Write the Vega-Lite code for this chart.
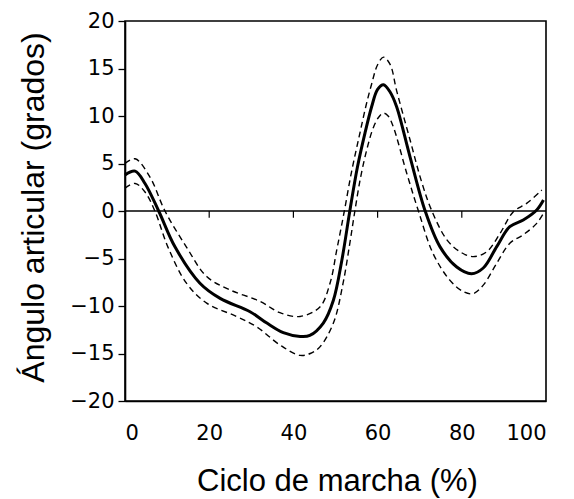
{
  "$schema": "https://vega.github.io/schema/vega-lite/v6.json",
  "width": 421,
  "height": 380,
  "autosize": {"type": "none"},
  "padding": {"left": 125, "top": 21, "right": 28, "bottom": 98},
  "background": "white",
  "config": {
    "view": {"stroke": "black", "strokeWidth": 1.6},
    "font": "Liberation Sans"
  },
  "datasets": {
    "media": [
      {"x": 0, "y": 3.8}, {"x": 2.4, "y": 4.2}, {"x": 4.75, "y": 2.9}, {"x": 8, "y": 0}, {"x": 11.9, "y": -3.8},
      {"x": 17.8, "y": -7.6}, {"x": 22.6, "y": -9.2}, {"x": 29.7, "y": -10.6}, {"x": 33.7, "y": -11.8},
      {"x": 37.6, "y": -12.8}, {"x": 41.6, "y": -13.2}, {"x": 43.9, "y": -13.1}, {"x": 47.1, "y": -11.8},
      {"x": 49.5, "y": -9.4}, {"x": 51.5, "y": -5.2}, {"x": 53.4, "y": 0}, {"x": 55.2, "y": 4.6},
      {"x": 57, "y": 8.2}, {"x": 58.6, "y": 11}, {"x": 60, "y": 12.8}, {"x": 61.4, "y": 13.3},
      {"x": 63, "y": 12.5}, {"x": 64.5, "y": 11}, {"x": 67.7, "y": 5.7}, {"x": 71.3, "y": 0},
      {"x": 74.8, "y": -3.75}, {"x": 78.8, "y": -5.9}, {"x": 82.3, "y": -6.6}, {"x": 85.1, "y": -6},
      {"x": 88.3, "y": -3.75}, {"x": 91.4, "y": -1.65}, {"x": 94.6, "y": -0.95}, {"x": 97.8, "y": 0.1},
      {"x": 99.4, "y": 1.15}
    ],
    "sup": [
      {"x": 0, "y": 5}, {"x": 2.4, "y": 5.5}, {"x": 5.9, "y": 3.6}, {"x": 9.5, "y": 0}, {"x": 14.6, "y": -3.8},
      {"x": 19.4, "y": -6.9}, {"x": 24.9, "y": -8.3}, {"x": 32, "y": -9.5}, {"x": 36.8, "y": -10.7},
      {"x": 41.6, "y": -11.1}, {"x": 46.3, "y": -10.1}, {"x": 48.7, "y": -7.6}, {"x": 50.3, "y": -4.1},
      {"x": 52.1, "y": 0}, {"x": 53.8, "y": 4.1}, {"x": 55.6, "y": 7.8}, {"x": 57.2, "y": 11},
      {"x": 58.6, "y": 13.4}, {"x": 60, "y": 15.4}, {"x": 61.4, "y": 16.2}, {"x": 63, "y": 15.4},
      {"x": 64.5, "y": 12.7}, {"x": 67.7, "y": 7.5}, {"x": 70.5, "y": 3}, {"x": 72.8, "y": 0.1},
      {"x": 76.4, "y": -3}, {"x": 79.6, "y": -4.3}, {"x": 82.7, "y": -4.8}, {"x": 85.9, "y": -4.3},
      {"x": 89.1, "y": -2.35}, {"x": 92.2, "y": -0.1}, {"x": 95.4, "y": 0.8}, {"x": 99, "y": 2.2}
    ],
    "inf": [
      {"x": 0, "y": 2.4}, {"x": 2.4, "y": 2.9}, {"x": 4.75, "y": 2}, {"x": 7.1, "y": 0}, {"x": 10.2, "y": -3.8},
      {"x": 14.6, "y": -7.6}, {"x": 19.4, "y": -9.7}, {"x": 26.5, "y": -11.1}, {"x": 31.3, "y": -12.2},
      {"x": 36.8, "y": -14.1}, {"x": 41.6, "y": -15.2}, {"x": 44, "y": -15}, {"x": 46.3, "y": -14.3},
      {"x": 49.5, "y": -11.8}, {"x": 51.8, "y": -7.6}, {"x": 53.4, "y": -3.4}, {"x": 54.6, "y": 0},
      {"x": 55.9, "y": 3.4}, {"x": 57.4, "y": 6.4}, {"x": 59, "y": 8.8}, {"x": 60.3, "y": 9.9},
      {"x": 61.4, "y": 10.3}, {"x": 62.5, "y": 10}, {"x": 63.7, "y": 8.9}, {"x": 66.9, "y": 4},
      {"x": 69.7, "y": 0}, {"x": 73.2, "y": -4.5}, {"x": 77.2, "y": -7.3}, {"x": 80.4, "y": -8.5},
      {"x": 82.7, "y": -8.7}, {"x": 85.1, "y": -7.8}, {"x": 88.3, "y": -5.5}, {"x": 91.4, "y": -3.4},
      {"x": 94.6, "y": -2.5}, {"x": 97.8, "y": -1.3}, {"x": 99.4, "y": -0.25}
    ],
    "cero": [{"y": 0}],
    "marcas": [
      {"x": 20, "y": 0, "y2": -0.7}, {"x": 40, "y": 0, "y2": -0.7},
      {"x": 60, "y": 0, "y2": -0.7}, {"x": 80, "y": 0, "y2": -0.7}
    ]
  },
  "encoding": {
    "x": {
      "field": "x", "type": "quantitative",
      "scale": {"domain": [0, 100], "nice": false, "zero": false},
      "axis": {
        "title": "Ciclo de marcha (%)",
        "values": [0, 20, 40, 60, 80, 100],
        "ticks": false, "grid": false,
        "domainColor": "black", "domainWidth": 1.6,
        "labelFontSize": 21, "labelColor": "black", "labelPadding": 21,
        "labelFont": "DejaVu Sans",
        "titleFont": "Liberation Sans", "titleFontSize": 31, "titleFontWeight": "normal",
        "titleColor": "black",
        "titleX": 212, "titleY": 89, "titleAlign": "center", "titleBaseline": "alphabetic"
      }
    },
    "y": {
      "field": "y", "type": "quantitative",
      "scale": {"domain": [-20, 20], "nice": false},
      "axis": {
        "title": "Ángulo articular (grados)",
        "values": [-20, -15, -10, -5, 0, 5, 10, 15, 20],
        "grid": false,
        "tickSize": 7, "tickColor": "black", "tickWidth": 1.3,
        "domainColor": "black", "domainWidth": 1.6,
        "labelFontSize": 21, "labelColor": "black", "labelPadding": 4,
        "labelFont": "DejaVu Sans",
        "titleFont": "Liberation Sans", "titleFontSize": 32, "titleFontWeight": "normal",
        "titleColor": "black",
        "titleX": -82, "titleY": 186, "titleAlign": "center", "titleBaseline": "alphabetic", "titleAngle": -90
      }
    }
  },
  "layer": [
    {
      "data": {"name": "cero"},
      "mark": {"type": "rule", "color": "black", "strokeWidth": 1.5},
      "encoding": {"x": null, "y": {"field": "y", "type": "quantitative"}}
    },
    {
      "data": {"name": "marcas"},
      "mark": {"type": "rule", "color": "black", "strokeWidth": 1.2},
      "encoding": {"y2": {"field": "y2"}}
    },
    {
      "data": {"name": "sup"},
      "mark": {"type": "line", "color": "black", "strokeWidth": 1.4, "strokeDash": [6, 4], "interpolate": "catmull-rom"}
    },
    {
      "data": {"name": "inf"},
      "mark": {"type": "line", "color": "black", "strokeWidth": 1.4, "strokeDash": [6, 4], "interpolate": "catmull-rom"}
    },
    {
      "data": {"name": "media"},
      "mark": {"type": "line", "color": "black", "strokeWidth": 3, "interpolate": "catmull-rom"}
    }
  ]
}
